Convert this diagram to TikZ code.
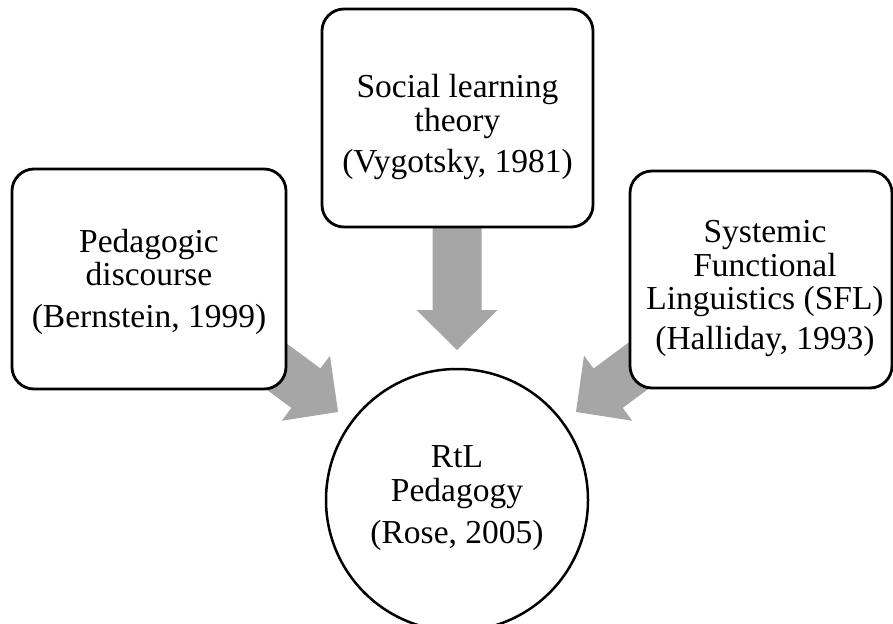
\documentclass[tikz,border=0pt]{standalone}
\usepackage{fontspec}
\setmainfont{Liberation Serif}
\usetikzlibrary{calc}
\definecolor{arrowgray}{HTML}{A6A6A6}
\tikzset{
  srcbox/.style={draw=black, line width=2.8pt, fill=white, rounded corners=22pt, inner sep=0pt},
  hub/.style={circle, draw=black, line width=2.5pt, fill=white, inner sep=0pt},
  lbl/.style={align=center, inner sep=0pt, font=\fontsize{33.5}{33.5}\selectfont},
  blockarrow/.pic={\fill[arrowgray] (0,0) -- (-40,40.5) -- (-40,24.5) -- (-150,24.5)
     -- (-150,-24.5) -- (-40,-24.5) -- (-40,-40.5) -- cycle;}
}
\begin{document}
\begin{tikzpicture}[x=1pt,y=1pt]
\useasboundingbox (0,0) rectangle (893,-623);
\clip (0,0) rectangle (893,-623);
% hub
\node[hub, minimum size=262pt] (rtl) at (457,-500) {};
\node[lbl] (rtlt) at (457,-498.5) {RtL\\Pedagogy\\[9pt](Rose, 2005)};
% arrow tips
\coordinate (tipT) at ($(rtl.center)+(90:150)$);
\coordinate (tipL) at ($(rtl.center)+(143.5:148)$);
\coordinate (tipR) at ($(rtl.center)+(36.5:148)$);
\pic[rotate=-90] at (tipT) {blockarrow};
\pic[rotate=-36.5] at (tipL) {blockarrow};
\pic[rotate=-143.5] at (tipR) {blockarrow};
% boxes
\node[srcbox, minimum width=274pt, minimum height=220pt] (ped) at (149,-279) {};
\node[lbl] (pedt) at (149,-281.5) {Pedagogic\\discourse\\[8pt](Bernstein, 1999)};
\node[srcbox, minimum width=271pt, minimum height=218pt] (soc) at (457.5,-118) {};
\node[lbl] (soct) at (457.5,-127) {Social learning\\theory\\[8pt](Vygotsky, 1981)};
\node[srcbox, minimum width=262pt, minimum height=217pt] (sfl) at (761,-279.5) {};
\node[lbl] (sflt) at (765,-288.5) {Systemic\\Functional\\Linguistics (SFL)\\[6pt](Halliday, 1993)};
\end{tikzpicture}
\end{document}
